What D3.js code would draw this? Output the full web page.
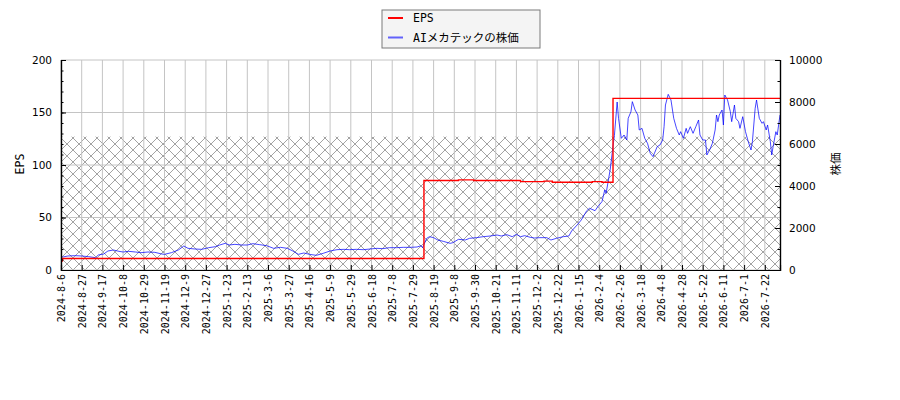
<!DOCTYPE html>
<html>
<head>
<meta charset="utf-8">
<script src="https://cdn.jsdelivr.net/npm/d3@7"></script>
<style>
body { margin: 0; background: #fff; }
svg { display: block; }
</style>
</head>
<body>
<svg id="chart" width="900" height="400"></svg>
<script>
// x axis is trading-day index; labels every 15 days
var tickDay = [0, 15, 30, 45, 60, 75, 90, 105, 120, 135, 150, 165, 180, 195, 210, 225, 240, 255, 270, 285, 300, 315, 330, 345, 360, 375, 390, 405, 420, 435, 450, 465, 480, 495, 510];
var tickLabel = ["2024-8-6", "2024-8-27", "2024-9-17", "2024-10-8", "2024-10-29", "2024-11-19", "2024-12-9", "2024-12-27", "2025-1-23", "2025-2-13", "2025-3-6", "2025-3-27", "2025-4-16", "2025-5-9", "2025-5-29", "2025-6-18", "2025-7-8", "2025-7-29", "2025-8-19", "2025-9-8", "2025-9-30", "2025-10-21", "2025-11-11", "2025-12-2", "2025-12-22", "2026-1-15", "2026-2-4", "2026-2-26", "2026-3-18", "2026-4-8", "2026-4-28", "2026-5-22", "2026-6-11", "2026-7-1", "2026-7-22"];
var lastDay = 521;

// EPS step changes (day index, value)
var epsDay = [0, 1, 263, 288, 299, 333, 350, 356, 385, 392, 400, 521];
var eps = [8.5, 11, 85.3, 85.8, 85.3, 84.2, 84.6, 83.6, 84.2, 83.6, 163.5, 163.5];

// share price samples (day index, yen)
var priceDay = [0, 5, 10, 15, 20, 25, 27, 31, 34, 38, 42, 45, 49, 54, 58, 63, 68, 73, 75, 80, 85, 89, 92, 97, 102, 107, 112, 115, 119, 122, 126, 131, 135, 139, 144, 149, 154, 159, 164, 168, 172, 176, 180, 185, 190, 195, 200, 205, 209, 214, 219, 224, 229, 233, 238, 243, 248, 253, 258, 261, 262, 265, 267, 270, 273, 277, 282, 284, 288, 293, 296, 301, 306, 311, 316, 319, 323, 327, 330, 333, 336, 340, 343, 347, 352, 355, 359, 364, 368, 370, 374, 377, 381, 383, 387, 389, 392, 394, 395, 398, 400, 401, 403, 404, 406, 408, 410, 411, 413, 414, 416, 418, 419, 421, 423, 425, 427, 429, 430, 432, 434, 436, 437, 438, 440, 442, 444, 446, 448, 449, 451, 453, 454, 456, 458, 460, 462, 463, 465, 467, 468, 470, 472, 474, 475, 476, 477, 479, 480, 481, 483, 485, 486, 488, 489, 491, 492, 494, 496, 498, 500, 501, 503, 504, 506, 508, 509, 511, 512, 514, 515, 516, 518, 519, 521];
var price = [600, 667, 683, 667, 635, 587, 714, 762, 905, 952, 889, 857, 889, 857, 825, 857, 841, 762, 746, 825, 952, 1143, 1032, 1000, 984, 1063, 1111, 1190, 1270, 1190, 1222, 1190, 1190, 1254, 1206, 1159, 1032, 1079, 1032, 905, 746, 810, 746, 698, 794, 905, 968, 984, 968, 984, 968, 1000, 1032, 1016, 1063, 1063, 1079, 1079, 1095, 1159, 1063, 1508, 1587, 1540, 1429, 1365, 1270, 1302, 1460, 1429, 1508, 1540, 1587, 1619, 1667, 1619, 1683, 1587, 1698, 1587, 1635, 1556, 1524, 1540, 1540, 1429, 1508, 1587, 1619, 1857, 2143, 2381, 2825, 2937, 2825, 3016, 3254, 3810, 3650, 4800, 5900, 6400, 8000, 7222, 6270, 6429, 6190, 7222, 7540, 8016, 7619, 7381, 6667, 6746, 6270, 6032, 5556, 5397, 5556, 5873, 5952, 6190, 6825, 7857, 8365, 8095, 7222, 6746, 6429, 6587, 6270, 6746, 6508, 6825, 6508, 6825, 7143, 6429, 6190, 6190, 5476, 5714, 6032, 6667, 7381, 7063, 7381, 7619, 6905, 8333, 8095, 7540, 7063, 7857, 7222, 7063, 6746, 7302, 6587, 6111, 5714, 6111, 7698, 8095, 7222, 6984, 7063, 6667, 6905, 6111, 5476, 5873, 6587, 6429, 7381];

var hatchTop = [6350];
var epsTicks = [0, 50, 100, 150, 200];
var priceTicks = [0, 2000, 4000, 6000, 8000, 10000];

var svg = d3.select("#chart");
var pLeft = 61, pRight = 780, pTop = 60, pBottom = 270;

var x = d3.scaleLinear().domain([0, lastDay]).range([pLeft, pRight]);
var yL = d3.scaleLinear().domain([0, 200]).range([pBottom, pTop]);
var yR = d3.scaleLinear().domain([0, 10000]).range([pBottom, pTop]);

var defs = svg.append("defs");
var hs = 12;
var pat = defs.append("pattern").attr("id", "hatch").attr("patternUnits", "userSpaceOnUse")
	.attr("width", hs).attr("height", hs).attr("x", pLeft).attr("y", pBottom);
pat.append("path").attr("d", "M0,0L" + hs + "," + hs + "M0," + hs + "L" + hs + ",0")
	.attr("stroke", "#999").attr("stroke-width", 0.9).attr("fill", "none");
defs.append("clipPath").attr("id", "plotClip").append("rect")
	.attr("x", pLeft).attr("y", pTop).attr("width", pRight - pLeft).attr("height", pBottom - pTop);

// hatched band
svg.append("rect").attr("x", pLeft).attr("y", yR(hatchTop[0]))
	.attr("width", pRight - pLeft).attr("height", pBottom - yR(hatchTop[0]))
	.attr("fill", "url(#hatch)");

// grid
var grid = svg.append("g");
grid.selectAll("line.v").data(tickDay).enter().append("line")
	.attr("x1", function (d) { return x(d); }).attr("x2", function (d) { return x(d); })
	.attr("y1", pTop).attr("y2", pBottom).attr("stroke", "#c4c4c4").attr("stroke-width", 1);
grid.selectAll("line.h").data(epsTicks).enter().append("line")
	.attr("x1", pLeft).attr("x2", pRight)
	.attr("y1", function (d) { return yL(d); }).attr("y2", function (d) { return yL(d); })
	.attr("stroke", "#c4c4c4").attr("stroke-width", 1);

// lines
var plot = svg.append("g").attr("clip-path", "url(#plotClip)");
var priceLine = d3.line().x(function (d, i) { return x(priceDay[i]); }).y(function (d) { return yR(d); });
plot.append("path").datum(price).attr("d", priceLine)
	.attr("fill", "none").attr("stroke", "#0000ff").attr("stroke-opacity", 0.72).attr("stroke-width", 1);
var epsLine = d3.line().curve(d3.curveStepAfter).x(function (d, i) { return x(epsDay[i]); }).y(function (d) { return yL(d); });
plot.append("path").datum(eps).attr("d", epsLine)
	.attr("fill", "none").attr("stroke", "#ff0000").attr("stroke-width", 1.4);

// axes
var axL = svg.append("g").attr("transform", "translate(" + pLeft + ",0)")
	.call(d3.axisLeft(yL).tickValues(epsTicks).tickSize(-5).tickPadding(9));
svg.append("g").attr("transform", "translate(" + pLeft + ",0)")
	.call(d3.axisLeft(yL).tickValues(d3.range(0, 201, 10)).tickSize(-2.5).tickFormat(""));
var axR = svg.append("g").attr("transform", "translate(" + pRight + ",0)")
	.call(d3.axisRight(yR).tickValues(priceTicks).tickSize(-5).tickPadding(9).tickFormat(d3.format("d")));
svg.append("g").attr("transform", "translate(" + pRight + ",0)")
	.call(d3.axisRight(yR).tickValues(d3.range(0, 10001, 1000)).tickSize(-2.5).tickFormat(""));
var axB = svg.append("g").attr("transform", "translate(0," + pBottom + ")")
	.call(d3.axisBottom(x).tickValues(tickDay).tickSize(-5).tickFormat(function (d, i) { return tickLabel[i]; }));
axB.selectAll("text").attr("transform", "rotate(-90)").attr("text-anchor", "end")
	.attr("x", -4).attr("y", 0).attr("dy", "0.35em")
	.style("font-family", "'DejaVu Sans Mono', monospace").style("font-size", "10px").attr("fill", "#000");
svg.selectAll(".domain").attr("stroke", "#000").attr("stroke-width", 1.2);
svg.selectAll(".tick line").attr("stroke", "#000");
axL.selectAll("text").style("font-family", "'DejaVu Sans', sans-serif").style("font-size", "10.5px").attr("fill", "#000");
axR.selectAll("text").style("font-family", "'DejaVu Sans', sans-serif").style("font-size", "10.5px").attr("fill", "#000");

// axis titles
var lblFont = "'DejaVu Sans Mono', 'Noto Sans CJK JP', monospace";
svg.append("text").attr("transform", "translate(20,164) rotate(-90)").attr("text-anchor", "middle")
	.attr("dy", "0.35em").style("font-family", lblFont).style("font-size", "11.5px").text("EPS");
svg.append("text").attr("transform", "translate(836,164) rotate(-90)").attr("text-anchor", "middle")
	.attr("dy", "0.35em").style("font-family", lblFont).style("font-size", "11.5px").text("株価");

// legend
var leg = svg.append("g").attr("transform", "translate(382,10)");
leg.append("rect").attr("width", 158).attr("height", 38).attr("fill", "#f4f4f4").attr("stroke", "#7a7a7a");
var legItems = [{ name: "EPS", color: "#ff0000", op: 1 }, { name: "AIメカテックの株価", color: "#0000ff", op: 0.6 }];
legItems.forEach(function (d, i) {
	var yy = 8 + i * 19.5;
	leg.append("line").attr("x1", 6).attr("x2", 21).attr("y1", yy).attr("y2", yy)
		.attr("stroke", d.color).attr("stroke-opacity", d.op).attr("stroke-width", 2);
	leg.append("text").attr("x", 31).attr("y", yy).attr("dy", "0.36em")
		.style("font-family", lblFont).style("font-size", "11.5px").text(d.name);
});
</script>
</body>
</html>
